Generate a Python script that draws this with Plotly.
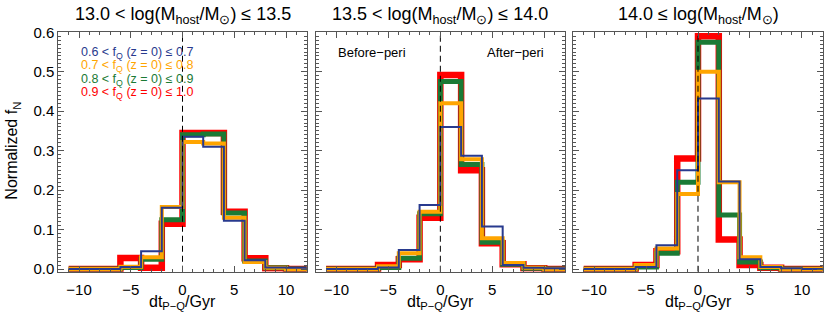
import plotly.graph_objects as go

# bin centres (Gyr); steps fall at even values
bin_centers = [-11, -9, -7, -5, -3, -1, 1, 3, 5, 7, 9, 11, 13]

panel_titles = [
    "13.0 < log(M<sub>host</sub>/M<sub>⊙</sub>) ≤ 13.5",
    "13.5 < log(M<sub>host</sub>/M<sub>⊙</sub>) ≤ 14.0",
    "14.0 ≤ log(M<sub>host</sub>/M<sub>⊙</sub>)",
]

series_labels = [
    "0.6 < f<sub>Q</sub> (z = 0) ≤ 0.7",
    "0.7 < f<sub>Q</sub> (z = 0) ≤ 0.8",
    "0.8 < f<sub>Q</sub> (z = 0) ≤ 0.9",
    "0.9 < f<sub>Q</sub> (z = 0) ≤ 1.0",
]

# panel 1: 13.0 < log M <= 13.5
p1_blue   = [0, 0, 0, 0.005, 0.045, 0.155, 0.335, 0.310, 0.122, 0.022, 0.004, 0.003, 0]
p1_orange = [0, 0, 0, 0.006, 0.030, 0.157, 0.322, 0.318, 0.130, 0.018, 0.003, 0, 0]
p1_green  = [0, 0, 0, 0.004, 0.025, 0.125, 0.340, 0.342, 0.142, 0.020, 0.003, 0, 0]
p1_red    = [0, 0, 0, 0.028, 0.003, 0.115, 0.345, 0.345, 0.145, 0.027, 0.002, 0, 0]

# panel 2: 13.5 < log M <= 14.0
p2_blue   = [0, 0, 0, 0.004, 0.048, 0.162, 0.360, 0.287, 0.108, 0.010, 0.003, 0.002, 0]
p2_orange = [0, 0, 0, 0.007, 0.040, 0.145, 0.420, 0.278, 0.078, 0.015, 0.003, 0, 0]
p2_green  = [0, 0, 0, 0.004, 0.027, 0.140, 0.475, 0.265, 0.068, 0.012, 0.002, 0, 0]
p2_red    = [0, 0, 0, 0.010, 0.025, 0.130, 0.492, 0.250, 0.065, 0.012, 0.002, 0, 0]

# panel 3: 14.0 <= log M
p3_blue   = [0, 0, 0, 0.005, 0.060, 0.250, 0.432, 0.222, 0.025, 0.005, 0.002, 0, 0]
p3_orange = [0, 0, 0, 0.010, 0.052, 0.190, 0.500, 0.220, 0.030, 0.005, 0, 0, 0]
p3_green  = [0, 0, 0, 0.005, 0.040, 0.220, 0.575, 0.137, 0.018, 0.003, 0, 0, 0]
p3_red    = [0, 0, 0, 0.010, 0.045, 0.280, 0.590, 0.075, 0.010, 0.003, 0, 0, 0]

panels = [
    [p1_red, p1_green, p1_orange, p1_blue],
    [p2_red, p2_green, p2_orange, p2_blue],
    [p3_red, p3_green, p3_orange, p3_blue],
]
draw_colors = ["#ff0000", "#1b7a35", "#ffa500", "#283a8e"]
draw_widths = [6.5, 5, 4, 2]
label_colors = ["#283a8e", "#ffa500", "#1b7a35", "#ff0000"]

x_ticks = [-10, -5, 0, 5, 10]
x_ticktext = ["\u221210", "\u22125", "0", "5", "10"]
y_ticks = [0.0, 0.1, 0.2, 0.3, 0.4, 0.5, 0.6]

W, H = 831, 317
FONT = "Liberation Sans, Arial, Helvetica, sans-serif"
x_px = [(58.3, 306.7), (315.7, 565.0), (573.3, 822.7)]
top_px, zero_px = 32.3, 269.0
ymin, ymax = -0.007, 0.6
bot_px = top_px + (zero_px - top_px) * (ymax - ymin) / ymax
y_dom = [1 - bot_px / H, 1 - top_px / H]

fig = go.Figure()
for i, series in enumerate(panels):
    xa = "x" if i == 0 else f"x{i+1}"
    ya = "y" if i == 0 else f"y{i+1}"
    for vals, c, w in zip(series, draw_colors, draw_widths):
        fig.add_trace(go.Scatter(x=bin_centers, y=vals, mode="lines",
                                 line=dict(color=c, width=w, shape="hvh"),
                                 xaxis=xa, yaxis=ya, showlegend=False,
                                 hoverinfo="skip"))
    fig.add_trace(go.Scatter(x=[0, 0], y=[ymin, ymax], mode="lines",
                             line=dict(color="black", width=1, dash="6px,4px"),
                             xaxis=xa, yaxis=ya, showlegend=False,
                             hoverinfo="skip"))

axis_common = dict(showline=True, linecolor="#555", linewidth=1, mirror="ticks",
                   ticks="inside", tickcolor="#555", showgrid=False, zeroline=False,
                   automargin=False)

layout = dict(width=W, height=H, margin=dict(l=0, r=0, t=0, b=0, pad=0),
              paper_bgcolor="white", plot_bgcolor="white",
              font=dict(family=FONT, color="black"))
for i in range(3):
    xk = "xaxis" if i == 0 else f"xaxis{i+1}"
    yk = "yaxis" if i == 0 else f"yaxis{i+1}"
    ya = "y" if i == 0 else f"y{i+1}"
    xa = "x" if i == 0 else f"x{i+1}"
    layout[xk] = dict(domain=[x_px[i][0] / W, x_px[i][1] / W], range=[-12, 12],
                      anchor=ya, tickvals=x_ticks, ticktext=x_ticktext,
                      ticklen=6, tickfont=dict(size=15, family=FONT),
                      minor=dict(dtick=1, tick0=0, ticklen=3, ticks="inside",
                                 tickcolor="#555"),
                      ticklabelstandoff=4, **axis_common)
    layout[yk] = dict(domain=y_dom, range=[ymin, ymax], anchor=xa,
                      tickvals=y_ticks, tickformat=".1f", ticklen=6,
                      tickfont=dict(size=15, family=FONT),
                      showticklabels=(i == 0),
                      minor=dict(dtick=0.01, tick0=0, ticklen=3, ticks="inside",
                                 tickcolor="#555"),
                      **axis_common)
fig.update_layout(**layout)

ann = []
for i, t in enumerate(panel_titles):
    cx = (x_px[i][0] + x_px[i][1]) / 2 / W
    ann.append(dict(text=t, x=cx, y=1 - 15 / H, xref="paper", yref="paper",
                    showarrow=False, font=dict(size=18, family=FONT),
                    xanchor="center", yanchor="middle"))
    ann.append(dict(text="dt<sub>P\u2212Q</sub>/Gyr", x=cx, y=1 - 302 / H,
                    xref="paper", yref="paper", showarrow=False,
                    font=dict(size=16, family=FONT),
                    xanchor="center", yanchor="middle"))
ann.append(dict(text="Normalized f<sub>N</sub>", x=13 / W,
                y=1 - ((top_px + zero_px) / 2) / H, xref="paper", yref="paper",
                textangle=-90, showarrow=False, font=dict(size=16, family=FONT),
                xanchor="center", yanchor="middle"))
for k, (lbl, c) in enumerate(zip(series_labels, label_colors)):
    ann.append(dict(text=lbl, x=79 / W, y=1 - (53.3 + 13.1 * k) / H,
                    xref="paper", yref="paper", showarrow=False,
                    font=dict(size=12.5, family=FONT, color=c),
                    xanchor="left", yanchor="middle"))
ann.append(dict(text="Before\u2212peri", x=372 / W, y=1 - 53 / H, xref="paper",
                yref="paper", showarrow=False, font=dict(size=13, family=FONT),
                xanchor="center", yanchor="middle"))
ann.append(dict(text="After\u2212peri", x=515.5 / W, y=1 - 53 / H, xref="paper",
                yref="paper", showarrow=False, font=dict(size=13, family=FONT),
                xanchor="center", yanchor="middle"))
fig.update_layout(annotations=ann)

fig.write_html("out.html", config={"displayModeBar": False},
               post_script="document.body.style.margin='0px';")
